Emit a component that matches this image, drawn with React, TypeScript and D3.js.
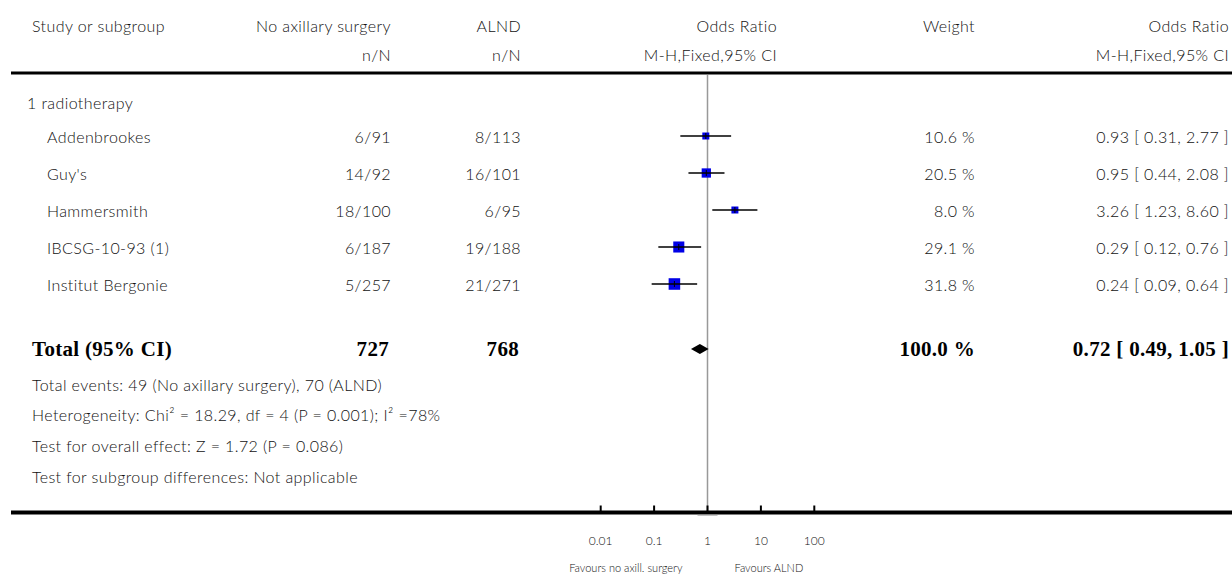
import React from 'react'
import * as d3 from 'd3'

// study rows
const studies = ['Addenbrookes', "Guy's", 'Hammersmith', 'IBCSG-10-93 (1)', 'Institut Bergonie']
const noAxEvents = [6, 14, 18, 6, 5]
const noAxTotal = [91, 92, 100, 187, 257]
const alndEvents = [8, 16, 6, 19, 21]
const alndTotal = [113, 101, 95, 188, 271]
const weights = [10.6, 20.5, 8.0, 29.1, 31.8]
const oddsRatio = [0.93, 0.95, 3.26, 0.29, 0.24]
const ciLow = [0.31, 0.44, 1.23, 0.12, 0.09]
const ciHigh = [2.77, 2.08, 8.6, 0.76, 0.64]

// pooled result
const totalN = [727, 768]
const totalOR = [0.72, 0.49, 1.05]
const totalWeight = 100.0

const axisTicks = [0.01, 0.1, 1, 10, 100]
const axisTickLabels = ['0.01', '0.1', '1', '10', '100']

const footnotes = [
  'Total events: 49 (No axillary surgery), 70 (ALND)',
  'Heterogeneity: Chi² = 18.29, df = 4 (P = 0.001); I² =78%',
  'Test for overall effect: Z = 1.72 (P = 0.086)',
  'Test for subgroup differences: Not applicable',
]

const W = 1232
const H = 580
const sans = "Lato, 'Open Sans', sans-serif"
const serif = "'Liberation Serif', 'DejaVu Serif', serif"
const textColor = '#111'

const fmt2 = d3.format('.2f')

const App = () => {
  const x = d3.scaleLog().domain([0.01, 100]).range([600.7, 814.3])
  const y = d3.scalePoint<string>().domain(studies).range([136, 284])
  const totalY = 349
  const footY = d3.scaleLinear().domain([0, 3]).range([384, 476])
  const axisY = 512.5

  const col = { study: 32, noAx: 391, alnd: 521, plot: 777, weight: 975, or: 1229 }
  const body = { fontFamily: sans, fontSize: 16, fill: textColor, letterSpacing: 0.4, fontWeight: 300 }

  return (
    <svg width={W} height={H} style={{ position: 'absolute', left: 0, top: 0, background: '#fff' }}>
      <g {...body}>
        {/* header */}
        <text x={col.study} y={32}>Study or subgroup</text>
        <text x={col.noAx} y={32} textAnchor="end">No axillary surgery</text>
        <text x={col.alnd} y={32} textAnchor="end">ALND</text>
        <text x={col.plot} y={32} textAnchor="end">Odds Ratio</text>
        <text x={col.weight} y={32} textAnchor="end">Weight</text>
        <text x={col.or} y={32} textAnchor="end">Odds Ratio</text>
        <text x={col.noAx} y={61} textAnchor="end">n/N</text>
        <text x={col.alnd} y={61} textAnchor="end">n/N</text>
        <text x={col.plot} y={61} textAnchor="end">M-H,Fixed,95% CI</text>
        <text x={col.or} y={61} textAnchor="end">M-H,Fixed,95% CI</text>
      </g>
      <line x1={11} x2={W} y1={73} y2={73} stroke="#000" strokeWidth={3} />

      {/* reference line at OR = 1 */}
      <line x1={x(1)} x2={x(1)} y1={75} y2={axisY} stroke="#999" strokeWidth={1.5} />

      <g {...body} dominantBaseline="central">
        <text x={27} y={102}>1 radiotherapy</text>
        {studies.map((s, i) => (
          <g key={s}>
            <text x={47} y={y(s)}>{s}</text>
            <text x={col.noAx} y={y(s)} textAnchor="end">{`${noAxEvents[i]}/${noAxTotal[i]}`}</text>
            <text x={col.alnd} y={y(s)} textAnchor="end">{`${alndEvents[i]}/${alndTotal[i]}`}</text>
            <text x={col.weight} y={y(s)} textAnchor="end">{`${weights[i].toFixed(1)} %`}</text>
            <text x={col.or} y={y(s)} textAnchor="end">
              {`${fmt2(oddsRatio[i])} [ ${fmt2(ciLow[i])}, ${fmt2(ciHigh[i])} ]`}
            </text>
          </g>
        ))}
      </g>

      {/* study markers */}
      {studies.map((s, i) => {
        const cy = y(s) as number
        const side = Math.max(7, 2.05 * Math.sqrt(weights[i]))
        const cx = x(oddsRatio[i])
        return (
          <g key={s}>
            <rect x={cx - side / 2} y={cy - side / 2} width={side} height={side} fill="#0000e6" />
            <line x1={x(ciLow[i])} x2={x(ciHigh[i])} y1={cy} y2={cy} stroke="#000" strokeWidth={1.5} />
            <line x1={cx} x2={cx} y1={cy - 3} y2={cy + 3} stroke="#000" strokeWidth={1} />
          </g>
        )
      })}

      {/* total row */}
      <g fontFamily={serif} fontSize={21} fontWeight="bold" fill="#000" letterSpacing={0.3} dominantBaseline="central">
        <text x={col.study} y={totalY}>Total (95% CI)</text>
        <text x={col.noAx - 2} y={totalY} textAnchor="end">{totalN[0]}</text>
        <text x={col.alnd - 2} y={totalY} textAnchor="end">{totalN[1]}</text>
        <text x={col.weight} y={totalY} textAnchor="end">{`${totalWeight.toFixed(1)} %`}</text>
        <text x={col.or} y={totalY} textAnchor="end">
          {`${fmt2(totalOR[0])} [ ${fmt2(totalOR[1])}, ${fmt2(totalOR[2])} ]`}
        </text>
      </g>
      <path
        d={`M${x(totalOR[1])},${totalY} L${x(totalOR[0])},${totalY - 5} L${x(totalOR[2])},${totalY} L${x(totalOR[0])},${totalY + 5} Z`}
        fill="#000"
      />

      <g {...body} dominantBaseline="central">
        {footnotes.map((f, i) => (
          <text key={i} x={col.study} y={footY(i)}>{f}</text>
        ))}
      </g>

      {/* axis */}
      <line x1={11} x2={W} y1={axisY} y2={axisY} stroke="#000" strokeWidth={4} />
      <line x1={x(1) - 10} x2={x(1) + 10} y1={axisY + 2.5} y2={axisY + 2.5} stroke="#888" strokeWidth={1} />
      {axisTicks.map(t => (
        <line key={t} x1={x(t)} x2={x(t)} y1={axisY - 7} y2={axisY} stroke="#000" strokeWidth={2} />
      ))}
      <g fontFamily={sans} fontSize={12} fill={textColor} fontWeight={300} textAnchor="middle" dominantBaseline="central">
        {axisTicks.map((t, i) => (
          <text key={t} x={x(t)} y={540}>{axisTickLabels[i]}</text>
        ))}
      </g>
      <g fontFamily={sans} fontSize={11} fill={textColor} fontWeight={300} dominantBaseline="central">
        <text x={x(1) - 25} y={567} textAnchor="end">Favours no axill. surgery</text>
        <text x={x(1) + 27} y={567} textAnchor="start">Favours ALND</text>
      </g>
    </svg>
  )
}

export default App
